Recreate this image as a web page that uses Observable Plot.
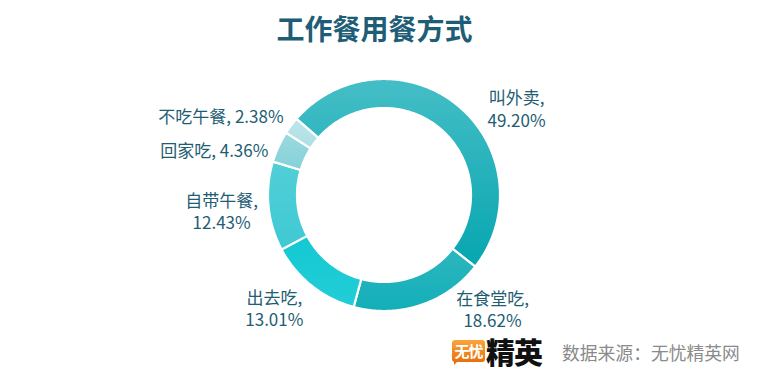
<!DOCTYPE html>
<html>
<head>
<meta charset="utf-8">
<script src="https://cdn.jsdelivr.net/npm/d3@7"></script>
<script src="https://cdn.jsdelivr.net/npm/@observablehq/plot@0.6"></script>
<style>
  html, body { margin: 0; padding: 0; background: #fff; }
  #wrap { position: relative; width: 779px; height: 383px; overflow: hidden; font-family: "Noto Sans CJK SC", "Noto Sans", sans-serif; }
  #title { position: absolute; left: 0; width: 749px; top: 14px; text-align: center; font-size: 28px; line-height: 28px; font-weight: bold; color: #1d5d76; }
  #chart { position: absolute; left: 0; top: 0; }
  #logoBox { position: absolute; left: 452px; top: 340px; width: 33px; height: 22px; border-radius: 3px;
    background: linear-gradient(#f9a53c, #e8700c); color: #fff; font-weight: bold; font-size: 15px; line-height: 22px; text-align: center; letter-spacing: -1px; }
  #logoTail { position: absolute; left: 454px; top: 360px; width: 0; height: 0; border-left: 5px solid #e8700c; border-bottom: 5px solid transparent; }
  #logoText { position: absolute; left: 486px; top: 336px; font-size: 29px; line-height: 30px; font-weight: 900; color: #111; letter-spacing: -1px; }
  #source { position: absolute; left: 562px; top: 342px; font-size: 17.8px; line-height: 20px; color: #8a8a8a; }
</style>
</head>
<body>
<div id="wrap">
  <div id="chart"></div>
  <div id="title">工作餐用餐方式</div>
  <div id="logoBox">无忧</div>
  <div id="logoTail"></div>
  <div id="logoText">精英</div>
  <div id="source">数据来源：无忧精英网</div>
</div>
<script>
// ---- data ----
const categories = ["叫外卖", "在食堂吃", "出去吃", "自带午餐", "回家吃", "不吃午餐"];
const values = [49.20, 18.62, 13.01, 12.43, 4.36, 2.38];

// ---- style / layout (not data) ----
const gradTop    = ["#45bec6", "#2db6be", "#14c8d2", "#52cfd8", "#9cd9df", "#bde6ea"];
const gradBottom = ["#06a6b0", "#12afb9", "#22ced7", "#3ec9d3", "#84d1d8", "#addfe4"];
const labelAngle  = [56.5, 136.4, 224.5, 264.7, 285.1, 296.1]; // degrees, clockwise from top
const labelRadius = [1.365, 1.35, 1.355, 1.41, 1.52, 1.57];    // in units of outer radius
const W = 779, H = 383, CX = 384, CY = 195, R = 116, HOLE = 0.75, START = -49;

const total = d3.sum(values);
const rad = d => d * Math.PI / 180;
let acc = rad(START);
const slices = categories.map((c, i) => {
  const a0 = acc, a1 = acc + values[i] / total * 2 * Math.PI;
  acc = a1;
  const single = values[i] < 5;
  const pct = values[i].toFixed(2) + "%";
  return {
    category: c, value: values[i], a0, a1, i,
    label: single ? `${c}, ${pct}` : `${c},\n${pct}`,
    lx: labelRadius[i] * Math.sin(rad(labelAngle[i])),
    ly: labelRadius[i] * Math.cos(rad(labelAngle[i]))
  };
});

function donut(index, scales) {
  const {x, y} = scales;
  const ns = "http://www.w3.org/2000/svg";
  const g = document.createElementNS(ns, "g");
  const defs = document.createElementNS(ns, "defs");
  g.appendChild(defs);
  slices.forEach(s => {
    const gid = "grad" + s.i;
    const lg = document.createElementNS(ns, "linearGradient");
    lg.setAttribute("id", gid);
    lg.setAttribute("x1", "0"); lg.setAttribute("y1", "0");
    lg.setAttribute("x2", "0"); lg.setAttribute("y2", "1");
    [[0, gradTop[s.i]], [1, gradBottom[s.i]]].forEach(([o, c]) => {
      const st = document.createElementNS(ns, "stop");
      st.setAttribute("offset", o); st.setAttribute("stop-color", c);
      lg.appendChild(st);
    });
    defs.appendChild(lg);
    const n = Math.max(8, Math.ceil((s.a1 - s.a0) / 0.01));
    const pts = [];
    for (let k = 0; k <= n; k++) { const a = s.a0 + (s.a1 - s.a0) * k / n; pts.push([x(Math.sin(a)), y(Math.cos(a))]); }
    for (let k = n; k >= 0; k--) { const a = s.a0 + (s.a1 - s.a0) * k / n; pts.push([x(HOLE * Math.sin(a)), y(HOLE * Math.cos(a))]); }
    const p = document.createElementNS(ns, "path");
    p.setAttribute("d", "M" + pts.map(q => q[0].toFixed(2) + "," + q[1].toFixed(2)).join("L") + "Z");
    p.setAttribute("fill", `url(#${gid})`);
    p.setAttribute("stroke", "#fff");
    p.setAttribute("stroke-width", "2.2");
    p.setAttribute("stroke-linejoin", "round");
    g.appendChild(p);
  });
  return g;
}

const chart = Plot.plot({
  width: W, height: H,
  margin: 0,
  x: {domain: [-CX / R, (W - CX) / R], axis: null},
  y: {domain: [-(H - CY) / R, CY / R], axis: null},
  style: {background: "transparent", fontFamily: "'Noto Sans CJK SC', sans-serif"},
  marks: [
    donut,
    Plot.text(slices, {
      x: "lx", y: "ly", text: "label",
      fontSize: 17, lineHeight: 1.33, fill: "#1e5d73", textAnchor: "middle"
    })
  ]
});
document.getElementById("chart").appendChild(chart);
</script>
</body>
</html>
